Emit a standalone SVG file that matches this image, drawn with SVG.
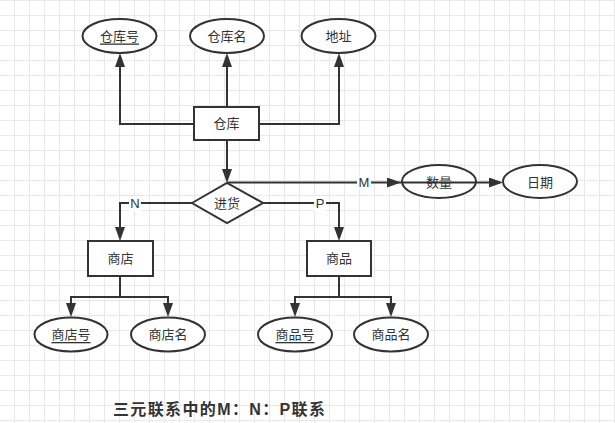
<svg xmlns="http://www.w3.org/2000/svg" width="615" height="423" viewBox="0 0 615 423">
<defs>
<pattern id="grid" x="14" y="0" width="15" height="15" patternUnits="userSpaceOnUse">
<path d="M0.5,0 V15 M0,0.5 H15" fill="none" stroke="#e8e8e8" stroke-width="1"/>
</pattern>
<marker id="arr" markerUnits="userSpaceOnUse" markerWidth="14" markerHeight="10" refX="11" refY="5" orient="auto">
<path d="M0,0 L14,5 L0,10 z" fill="#333"/>
</marker>
<style>
.shape{fill:#fff;stroke:#333;stroke-width:2}
.t{font-family:"Liberation Sans","Noto Sans CJK SC",sans-serif;font-size:13px;fill:#333;text-anchor:middle;dominant-baseline:central}
.u{text-decoration:underline}
.edge{fill:none;stroke:#333;stroke-width:2}
.lbl{fill:#fff}
.title{font-family:"Liberation Sans","Noto Sans CJK SC",sans-serif;font-size:16px;font-weight:bold;fill:#333}
</style>
</defs>
<rect width="615" height="423" fill="#fff"/>
<rect width="615" height="423" fill="url(#grid)"/>
<g id="nodes">
<g id="n-cangkuhao"><ellipse class="shape" cx="119.5" cy="36" rx="37" ry="17"/><text class="t u" x="119.5" y="36">仓库号</text></g>
<g id="n-cangkuming"><ellipse class="shape" cx="227" cy="36" rx="37" ry="17"/><text class="t" x="227" y="36">仓库名</text></g>
<g id="n-dizhi"><ellipse class="shape" cx="338.5" cy="36" rx="37" ry="17"/><text class="t" x="338.5" y="36">地址</text></g>
<g id="n-cangku"><rect class="shape" x="194" y="107" width="65" height="33"/><text class="t" x="226.5" y="123.5">仓库</text></g>
<g id="n-jinhuo"><polygon class="shape" points="192,203 227,183 263,203 227,223"/><text class="t" x="227" y="203">进货</text></g>
<g id="n-shuliang"><ellipse class="shape" cx="439" cy="181.5" rx="37" ry="16.5"/><text class="t" x="439" y="182">数量</text></g>
<g id="n-riqi"><ellipse class="shape" cx="540" cy="181.5" rx="37" ry="16.5"/><text class="t" x="540" y="182">日期</text></g>
<g id="n-shangdian"><rect class="shape" x="88" y="241" width="65" height="35"/><text class="t" x="120.5" y="258.5">商店</text></g>
<g id="n-shangpin"><rect class="shape" x="307" y="241" width="64" height="35"/><text class="t" x="339" y="258.5">商品</text></g>
<g id="n-shangdianhao"><ellipse class="shape" cx="71" cy="334.5" rx="36.5" ry="17"/><text class="t u" x="71" y="334.5">商店号</text></g>
<g id="n-shangdianming"><ellipse class="shape" cx="168" cy="334.5" rx="37" ry="17"/><text class="t" x="168" y="334.5">商店名</text></g>
<g id="n-shangpinhao"><ellipse class="shape" cx="295" cy="334.5" rx="37" ry="17"/><text class="t u" x="295" y="334.5">商品号</text></g>
<g id="n-shangpinming"><ellipse class="shape" cx="391" cy="334.5" rx="37" ry="17"/><text class="t" x="391" y="334.5">商品名</text></g>
</g>
<g id="connectors">
<path class="edge" d="M194,124 H120 V56" marker-end="url(#arr)"/>
<path class="edge" d="M227,107 V56" marker-end="url(#arr)"/>
<path class="edge" d="M259,124 H339 V56" marker-end="url(#arr)"/>
<path class="edge" d="M227,140 V180" marker-end="url(#arr)"/>
<path class="edge" d="M227,182.5 H398" marker-end="url(#arr)"/>
<path class="edge" d="M398,182.5 H500" marker-end="url(#arr)"/>
<path class="edge" d="M192,203 H120 V238" marker-end="url(#arr)"/>
<path class="edge" d="M263,203 H339 V238" marker-end="url(#arr)"/>
<path class="edge" d="M120,276 V297 H71 V314" marker-end="url(#arr)"/>
<path class="edge" d="M120,297 H168 V314" marker-end="url(#arr)"/>
<path class="edge" d="M339,276 V297 H295 V314" marker-end="url(#arr)"/>
<path class="edge" d="M339,297 H391 V314" marker-end="url(#arr)"/>
<rect class="lbl" x="357" y="175" width="14" height="15"/>
<text class="t" x="364" y="182.5">M</text>
<rect class="lbl" x="129" y="196" width="12" height="15"/>
<text class="t" x="135" y="203">N</text>
<rect class="lbl" x="314" y="196" width="12" height="15"/>
<text class="t" x="320" y="203">P</text>
</g>
<text class="title" x="113" y="415" textLength="212" lengthAdjust="spacing">三元联系中的M：N：P联系</text>
</svg>
